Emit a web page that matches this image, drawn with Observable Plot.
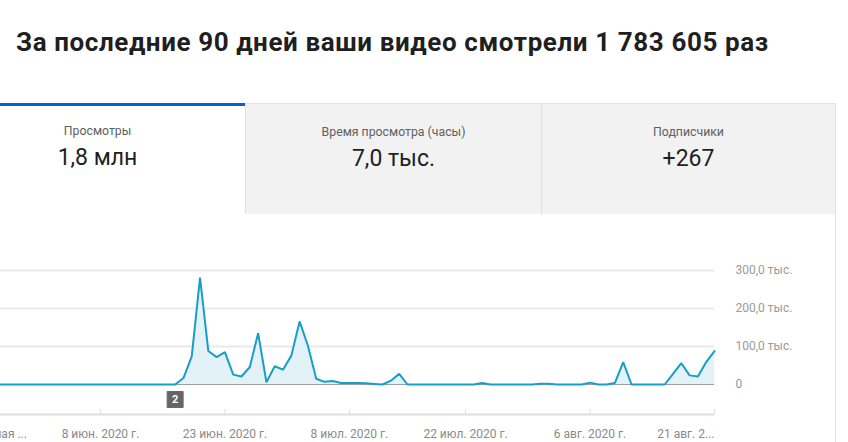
<!DOCTYPE html>
<html>
<head>
<meta charset="utf-8">
<script src="https://cdn.jsdelivr.net/npm/d3@7"></script>
<script src="https://cdn.jsdelivr.net/npm/@observablehq/plot@0.6"></script>
<style>
  html, body { margin: 0; padding: 0; background: #fff; }
  #page { position: relative; width: 848px; height: 442px; overflow: hidden; font-family: Roboto, "Noto Sans", sans-serif; background: #fff; }
  #title { position: absolute; left: 16px; top: 27px; font-size: 26px; letter-spacing: 0.6px; font-weight: 700; color: #1f1f1f; white-space: nowrap; }
  .tab { position: absolute; top: 103px; height: 111px; box-sizing: border-box; text-align: center; }
  .tab .lbl { position: absolute; left: 0; right: 0; top: 21px; font-size: 12.3px; color: #606060; }
  .tab .val { position: absolute; left: 0; right: 0; top: 41px; font-size: 23px; color: #1f1f1f; }
  #tab1 { left: -50px; width: 295px; background: #fff; }
  #tab2 { left: 245px; width: 296px; background: #f2f2f2; border-left: 1px solid #e0e0e0; border-top: 1px solid #e3e3e3; }
  #tab3 { left: 541px; width: 294px; background: #f2f2f2; border-left: 1px solid #e0e0e0; border-top: 1px solid #e3e3e3; }
  #bluebar { position: absolute; left: 0; top: 103px; width: 245px; height: 3px; background: #065fd4; }
  #cardright { position: absolute; left: 835px; top: 103px; width: 1px; height: 339px; background: #e0e0e0; }
  #chart { position: absolute; left: -40px; top: 230px; }
</style>
</head>
<body>
<div id="page">
  <div id="title"></div>
  <div class="tab" id="tab1"><div class="lbl"></div><div class="val"></div></div>
  <div class="tab" id="tab2"><div class="lbl"></div><div class="val"></div></div>
  <div class="tab" id="tab3"><div class="lbl"></div><div class="val"></div></div>
  <div id="bluebar"></div>
  <div id="cardright"></div>
  <div id="chart"></div>
</div>
<script>
// ---- data ----
const titleText = "За последние 90 дней ваши видео смотрели 1 783 605 раз";
const tabLabels = ["Просмотры", "Время просмотра (часы)", "Подписчики"];
const tabValues = ["1,8 млн", "7,0 тыс.", "+267"];

const startDate = "2020-05-24"; // first of the 90 days
const dailyViews = [
  0, 0, 0, 0, 0, 0, 0, 0,                     // May 24-31
  0, 0, 0, 0, 0, 0, 0, 0, 0, 0, 0, 0, 0, 0, 0, 0, 0, // Jun 1-17
  17000, 74000, 281000, 88000, 72000, 85000, 26000, 21000, 46000, 135000, 6000, 48000, 39000, // Jun 18-30
  76000, 166000, 102000, 15000, 7000, 9000, 4000, 4000, 4000, 3000, 1500, 0, 10000, 28000, 0, // Jul 1-15
  0, 0, 0, 0, 0, 0, 0, 0, 4000, 0, 0, 0, 0, 0, 0, 2000, // Jul 16-31
  2000, 0, 0, 0, 0, 5000, 0, 0, 4000, 59000, 0, 0, 0, 0, 0, // Aug 1-15
  28000, 56000, 24000, 21000, 59000, 88000    // Aug 16-21
];

const yTicks = [0, 100000, 200000, 300000];
const yTickLabels = ["0", "100,0 тыс.", "200,0 тыс.", "300,0 тыс."];
const xTickDates = ["2020-05-24", "2020-06-08", "2020-06-23", "2020-07-08", "2020-07-22", "2020-08-06", "2020-08-21"];
const xTickLabels = ["24 мая ...", "8 июн. 2020 г.", "23 июн. 2020 г.", "8 июл. 2020 г.", "22 июл. 2020 г.", "6 авг. 2020 г.", "21 авг. 2..."];
const markerDates = ["2020-06-17"];
const markerCounts = [2];

// ---- header ----
document.getElementById("title").textContent = titleText;
["tab1", "tab2", "tab3"].forEach((id, i) => {
  const el = document.getElementById(id);
  el.querySelector(".lbl").textContent = tabLabels[i];
  el.querySelector(".val").textContent = tabValues[i];
});

// ---- chart ----
const start = new Date(startDate);
const data = dailyViews.map((v, i) => ({date: d3.utcDay.offset(start, i), value: v}));
const tickDates = xTickDates.map(s => new Date(s));
const tickLabelOf = new Map(tickDates.map((d, i) => [+d, xTickLabels[i]]));
const yLabelOf = new Map(yTicks.map((v, i) => [v, yTickLabels[i]]));
const markers = markerDates.map((s, i) => ({date: new Date(s), count: markerCounts[i]}));
const firstTick = [tickDates[0]];
const lastTick = [tickDates[tickDates.length - 1]];

const chart = Plot.plot({
  width: 888,
  height: 212,
  marginLeft: 15.5,
  marginRight: 134,
  marginTop: 40,
  marginBottom: 58,
  style: {fontFamily: "Roboto, sans-serif", fontSize: "12px", background: "transparent", overflow: "visible"},
  x: {type: "utc", domain: [data[0].date, data[data.length - 1].date]},
  y: {domain: [0, 300000]},
  marks: [
    Plot.gridY(yTicks.slice(1), {stroke: "#e9e9e9", strokeOpacity: 1, strokeWidth: 2}),
    Plot.areaY(data, {x: "date", y: "value", fill: "#e3f2f7"}),
    Plot.ruleY([0], {stroke: "#9e9e9e", strokeWidth: 1}),
    Plot.lineY(data, {x: "date", y: "value", stroke: "#189fc8", strokeWidth: 2, strokeLinejoin: "miter"}),
    Plot.ruleY([0], {stroke: "#dedede", strokeWidth: 2, dy: 30}),
    Plot.axisX({
      ticks: tickDates,
      tickSize: 5,
      tickPadding: 14.5,
      dy: 25,
      lineAnchor: "top",
      stroke: "#dedede",
      fill: "#8a8a8a",
      tickFormat: d => (+d === +tickDates[0] || +d === +tickDates[tickDates.length - 1]) ? "" : tickLabelOf.get(+d)
    }),
    Plot.text(firstTick, {x: d => d, text: d => tickLabelOf.get(+d), frameAnchor: "bottom", dy: 44.5, lineAnchor: "top", textAnchor: "start", fill: "#8a8a8a"}),
    Plot.text(lastTick, {x: d => d, text: d => tickLabelOf.get(+d), frameAnchor: "bottom", dy: 44.5, lineAnchor: "top", textAnchor: "end", fill: "#8a8a8a"}),
    Plot.axisY({
      anchor: "right",
      ticks: yTicks,
      tickSize: 0,
      tickPadding: 21,
      fill: "#9a9a9a",
      tickFormat: v => yLabelOf.get(v),
      label: null
    }),
    Plot.dot(markers, {x: "date", y: 0, dy: 15, symbol: "square", r: 9, fill: "#666", stroke: "#666", strokeWidth: 1, strokeLinejoin: "round"}),
    Plot.text(markers, {x: "date", y: 0, dy: 15, text: d => String(d.count), fill: "#fff", fontWeight: "bold", fontSize: 11})
  ]
});
document.getElementById("chart").appendChild(chart);
</script>
</body>
</html>
